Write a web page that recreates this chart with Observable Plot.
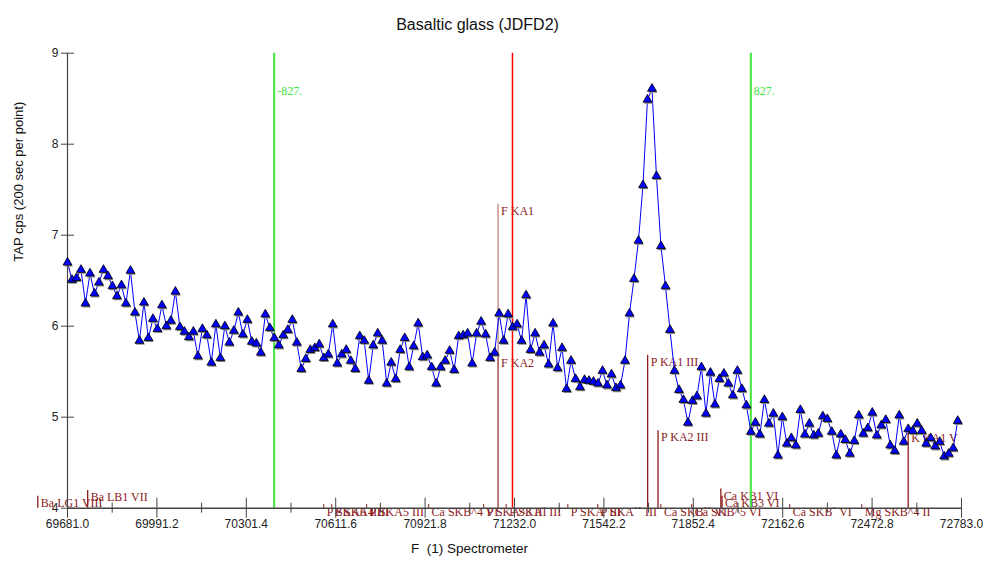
<!DOCTYPE html>
<html><head><meta charset="utf-8">
<script src="https://cdn.jsdelivr.net/npm/d3@7"></script>
<script src="https://cdn.jsdelivr.net/npm/@observablehq/plot@0.6"></script>
<style>body{margin:0;background:#fff} #chart svg{display:block}</style>
</head><body><div id="chart"></div>
<script>
const title = "Basaltic glass (JDFD2)";
const xLabel = "F  (1) Spectrometer";
const yLabel = "TAP cps (200 sec per point)";

// scan grid
const xStart = 69681.0;
const xStep = 15.6;
// counts (cps), one per scan point
const counts = [
  6.70, 6.51, 6.53, 6.62, 6.25, 6.58, 6.36, 6.48, 6.62, 6.55, 6.44, 6.33, 6.45, 6.25, 6.61, 6.15, 5.84, 6.26, 5.87, 6.08,
  5.97, 6.23, 6.00, 6.06, 6.38, 5.99, 5.94, 5.88, 5.94, 5.67, 5.97, 5.90, 5.60, 6.02, 5.65, 6.00, 5.82, 5.95, 6.15, 5.91,
  6.07, 5.83, 5.81, 5.71, 6.13, 5.98, 5.87, 5.79, 5.90, 5.96, 6.07, 5.82, 5.53, 5.64, 5.74, 5.76, 5.80, 5.65, 5.69, 6.02,
  5.59, 5.69, 5.74, 5.62, 5.53, 5.89,
  5.84, 5.40, 5.79, 5.92, 5.84, 5.37, 5.60, 5.42, 5.74, 5.87, 5.55, 5.78, 6.03, 5.66, 5.68, 5.55, 5.37, 5.55, 5.62, 5.73,
  5.52, 5.89, 5.90, 5.92, 5.59, 5.92, 6.05, 5.91, 5.65, 5.71, 6.14, 5.84, 6.13, 5.99, 6.02, 5.84, 6.34, 5.74, 5.92, 5.71,
  5.79, 5.58, 6.03, 5.54, 5.76, 5.31, 5.62, 5.42, 5.33, 5.41, 5.40, 5.39, 5.37, 5.51, 5.35, 5.47, 5.32, 5.35, 5.62, 6.14,
  6.52,
  6.94, 7.55, 8.49, 8.61, 7.65, 6.88, 6.44, 5.96, 5.51, 5.30,
  5.19, 4.94, 5.18, 5.23, 5.55, 5.04, 5.49, 5.14, 5.42, 5.48, 5.37, 5.24, 5.51, 5.31, 5.13, 4.84, 4.94, 4.81, 5.19, 4.93,
  5.04, 4.58, 5.00, 4.71, 4.77, 4.69, 5.08, 4.81, 4.93, 4.80, 4.82, 5.01, 4.98, 4.84, 4.58, 4.81, 4.75, 4.60, 4.74, 5.02,
  4.82, 4.88, 5.05, 4.80, 4.91, 4.97, 4.69, 4.63, 5.02, 4.73, 4.87, 4.85, 4.93, 4.85, 4.71, 4.77, 4.68, 4.73, 4.57, 4.60,
  4.66, 4.96
];

const xTicks = [69681.0, 69991.2, 70301.4, 70611.6, 70921.8, 71232.0, 71542.2, 71852.4, 72162.6, 72472.8, 72783.0];
const xMinorTicks = [69836.1, 70146.3, 70456.5, 70766.7, 71076.9, 71387.1, 71697.3, 72007.5, 72317.7, 72627.9];
const yTicks = [4, 5, 6, 7, 8, 9];

// peak position and background offsets
const peakPos = 71225;
const bgOffsets = [-827, 827];
const bgLabels = ["-827.", "827."];

// KLM line markers
const lineNames = ["F KA1", "F KA2", "P KA1 III", "P KA2 III", "K KA1 V", "Ca KB1 VI", "Ca KB3 VI", "Ba LB1 VII", "Ba LG1 VIII"];
const linePos   = [71175, 71175, 71694, 71730, 72598, 71948, 71952, 69751, 69578];
const lineTop   = [7.34, 5.67, 5.68, 4.85, 4.84, 4.21, 4.13, 4.195, 4.13];
const lineFaint = [true, true, false, false, false, false, false, false, false];

// small labels crowded along the axis
const smallNames = ["P SKA6 III", "P SKA4 III", "P SKA5 III", "Ca SKB^4 VI", "P SKA^3 III", "P SKA` III", "P SKA' III", "P SKA`` III", "Ca SKB`` VI", "Ca SKB^5 VI", "Ca SKB` VI", "Mg SKB^4 II"];
const smallPos   = [70570, 70598, 70719, 70934, 71125, 71203, 71417, 71521, 71740, 71847, 72187, 72437];
const smallTop = 4.04;

const pts = counts.map((c, i) => ({x: xStart + i * xStep, y: c}));
const markers = lineNames.map((n, i) => ({name: n, x: linePos[i], top: lineTop[i], faint: lineFaint[i]}));
const smalls = smallNames.map((n, i) => ({name: n, x: smallPos[i], top: smallTop}));
const bg = bgOffsets.map((o, i) => ({x: peakPos + o, label: bgLabels[i]}));

const dark = "#8b1a1a";
const serif = "'Liberation Serif', 'Times New Roman', serif";

const chart = Plot.plot({
  width: 993, height: 564,
  marginLeft: 67, marginRight: 32, marginTop: 52.7, marginBottom: 56.3,
  x: {domain: [69681, 72783], label: null},
  y: {domain: [4, 9], label: null},
  style: {fontFamily: "'Liberation Sans', Arial, sans-serif", fontSize: "12px", background: "white", color: "#222"},
  marks: [
    // KLM markers
    Plot.ruleX(markers, {x: "x", y1: 4, y2: "top", stroke: dark, strokeWidth: 1.3, strokeOpacity: d => d.faint ? 0.55 : 1}),
    Plot.text(markers, {x: "x", y: "top", text: "name", textAnchor: "start", lineAnchor: "top", dx: 3, dy: 2, fill: dark, fontFamily: serif, fontSize: 12}),
    Plot.ruleX(smalls, {x: "x", y1: 4, y2: "top", stroke: dark, strokeWidth: 1}),
    Plot.text(smalls, {x: "x", y: "top", text: "name", textAnchor: "start", lineAnchor: "top", dx: 3, dy: 3, fill: dark, fontFamily: serif, fontSize: 12}),
    // background positions and peak
    Plot.ruleX(bg, {x: "x", y1: 4, y2: 9, stroke: "#3ee63e", strokeWidth: 2}),
    Plot.text(bg, {x: "x", text: "label", frameAnchor: "top", dy: 33, dx: 3, textAnchor: "start", fill: "#3ee63e", fontFamily: serif, fontSize: 12}),
    Plot.ruleX([peakPos], {y1: 4, y2: 9, stroke: "#ff0000", strokeWidth: 1.5}),
    // axes
    Plot.ruleY([4], {stroke: "#444", strokeWidth: 1.5}),
    Plot.ruleX([69681], {y1: 4, y2: 9, stroke: "#444", strokeWidth: 1.2}),
    Plot.axisX(xMinorTicks, {tickSize: 10, dy: -5, tickFormat: () => "", stroke: "#444"}),
    Plot.axisX(xTicks, {tickSize: 20, dy: -10, tickPadding: 1, tickFormat: d => d.toFixed(1), stroke: "#444", fontSize: 12}),
    Plot.axisY(yTicks, {tickSize: 13, dx: 7, tickPadding: 3, tickFormat: d => String(d), stroke: "#444", fontSize: 12}),
    // data
    Plot.line(pts, {x: "x", y: "y", stroke: "#0000ff", strokeWidth: 1}),
    Plot.dot(pts, {x: "x", y: "y", symbol: "triangle", r: 3.3, fill: "#888", stroke: "none", dx: 1, dy: 1.5}),
    Plot.dot(pts, {x: "x", y: "y", symbol: "triangle", r: 3.3, fill: "#0000ff", stroke: "#000", strokeWidth: 0.8}),
    // titles
    Plot.text([title], {frameAnchor: "top", dy: -35, dx: -37, fontSize: 16, fill: "#111"}),
    Plot.text([xLabel], {frameAnchor: "bottom", dy: 45, dx: -45, fontSize: 13.5, fill: "#111"}),
    Plot.text([yLabel], {frameAnchor: "left", dx: -49, dy: -19, rotate: -90, fontSize: 13, fill: "#111"})
  ]
});
document.getElementById("chart").append(chart);
</script>
</body></html>
